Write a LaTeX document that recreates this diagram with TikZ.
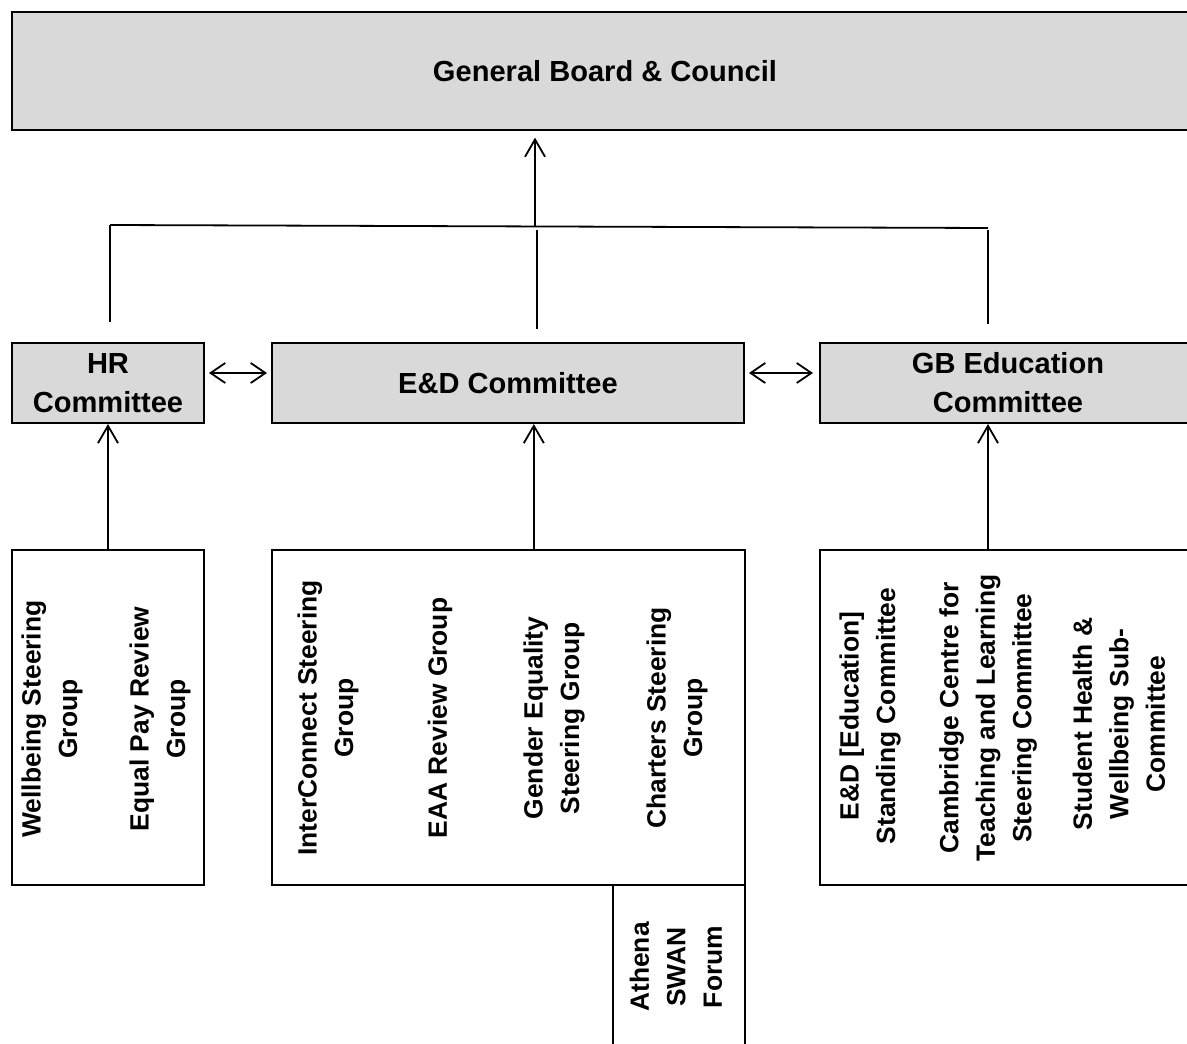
\documentclass[tikz,border=0pt]{standalone}
\usepackage{amsmath}
\usepackage{fontspec}
\setmainfont{Liberation Sans}
\usetikzlibrary{arrows.meta}

\definecolor{boxgray}{RGB}{217,217,217}

\tikzset{
  headbox/.style={draw, line width=1.5pt, fill=boxgray, align=center, inner sep=0pt,
    font=\fontsize{21.8}{29.3}\selectfont\bfseries},
  subbox/.style={draw, line width=1.5pt, fill=white, inner sep=0pt},
  vtext/.style={rotate=90, align=center, inner sep=0pt,
    font=\fontsize{19.8}{27.4}\selectfont\bfseries},
  conn/.style={line width=1.35pt},
  arr/.style={line width=1.35pt, -{Straight Barb[length=13pt,width=15pt]}},
  dblarr/.style={line width=1.35pt, {Straight Barb[length=11pt,width=15pt]}-{Straight Barb[length=11pt,width=15pt]}}
}

\begin{document}
\begin{tikzpicture}[x=0.75pt,y=0.75pt,yscale=-1]
\useasboundingbox (0,0) rectangle (1187,1044);

%Rectangle: board
\node[headbox, minimum width=889.5pt, minimum height=88.5pt] (board) at (605,71) {General Board \& Council};

%Rectangles: committees
\node[headbox, minimum width=144pt, minimum height=60pt] (hr) at (108,383) {HR\\Committee};
\node[headbox, minimum width=354pt, minimum height=60pt] (ed) at (508,383) {E\&D Committee};
\node[headbox, minimum width=282pt, minimum height=60pt] (gbe) at (1008,383) {GB Education\\Committee};

%Rectangles: groups
\node[subbox, minimum width=144pt, minimum height=251.25pt] (hrsub) at (108,717.5) {};
\node[subbox, minimum width=354.75pt, minimum height=251.25pt] (edsub) at (508.5,717.5) {};
\node[subbox, minimum width=282pt, minimum height=251.25pt] (gbsub) at (1008,717.5) {};
\node[subbox, minimum width=99pt, minimum height=123.75pt] (athena) at (679,967.5) {};

%Text: HR groups
\node[vtext] (wellbeing) at (52,719) {Wellbeing Steering\\Group};
\node[vtext] (equalpay) at (160,719) {Equal Pay Review\\Group};

%Text: E&D groups
\node[vtext] (interconnect) at (328,718) {InterConnect Steering\\Group};
\node[vtext] (eaa) at (440,718) {EAA Review Group};
\node[vtext] (gender) at (554,718) {Gender Equality\\Steering Group};
\node[vtext] (charters) at (677,718) {Charters Steering\\Group};
\node[vtext] (athenaswan) at (676,967) {Athena\\SWAN\\Forum};

%Text: GB Education groups
\node[vtext] (edstanding) at (870,716) {E\&D [Education]\\Standing Committee};
\node[vtext] (ccteach) at (988,718) {Cambridge Centre for\\Teaching and Learning\\Steering Committee};
\node[vtext] (studenthealth) at (1119,724) {Student Health \&\\Wellbeing Sub-\\Committee};

%Straight Lines: bus to board
\coordinate (busL) at (110,225);
\coordinate (busM) at (535,226);
\coordinate (busR) at (988,228);
\coordinate (stemM) at (537,230);
\coordinate (stemR) at (988,230);
\draw[conn] (busL) -- (busR);
\draw[arr, shorten >=5pt] (busM) -- (busM |- board.south);
\draw[conn, shorten >=15pt] (busL) -- (busL |- hr.north);
\draw[conn, shorten >=10pt] (stemM) -- (stemM |- ed.north);
\draw[conn, shorten >=13.5pt] (stemR) -- (stemR |- gbe.north);

%Arrows: between committees
\draw[dblarr, shorten <=3pt, shorten >=3pt] ([yshift=-7.5pt]hr.east) -- ([yshift=-7.5pt]ed.west);
\draw[dblarr, shorten <=3pt, shorten >=4.5pt] ([yshift=-7.5pt]ed.east) -- ([yshift=-7.5pt]gbe.west);

%Arrows: groups to committees
\draw[arr] (hrsub.north) -- (hr.south);
\draw[arr] ([xshift=19pt]edsub.north) -- ([xshift=19pt]edsub.north |- ed.south);
\draw[arr] ([xshift=-15pt]gbsub.north) -- ([xshift=-15pt]gbsub.north |- gbe.south);
\end{tikzpicture}
\end{document}
